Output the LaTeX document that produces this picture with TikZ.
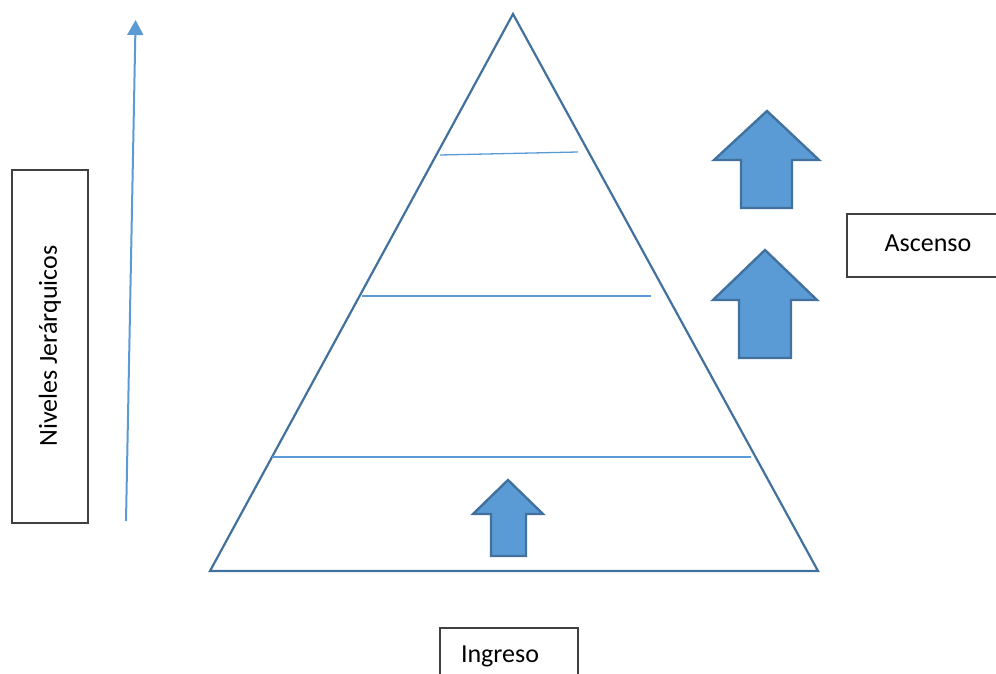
\documentclass[tikz,border=0pt]{standalone}
\usepackage{fontspec}
\setmainfont{Carlito}
\usetikzlibrary{arrows.meta}
\definecolor{pyr}{HTML}{41719C}
\definecolor{fillb}{HTML}{5B9BD5}
\definecolor{boxc}{HTML}{404040}
\tikzset{
  pyrline/.style={draw=pyr, line width=2.2pt, line join=miter},
  level/.style={draw=fillb, line width=1.3pt},
  blockarrow/.style={draw=pyr, fill=fillb, line width=2.4pt, line join=miter},
  lbl/.style={font=\fontsize{26}{30}\selectfont, inner sep=0pt},
  boxline/.style={draw=boxc, line width=1.4pt}
}
\begin{document}
\begin{tikzpicture}[x=1pt,y=-1pt]
\useasboundingbox (0,0) rectangle (996,674);
% pyramid
\coordinate (apex) at (513,14);
\coordinate (bl) at (210,571);
\coordinate (br) at (818,571);
\draw[pyrline] (apex) -- (br) -- (bl) -- cycle;
% level lines
\coordinate (l1a) at (440,155); \coordinate (l1b) at (578,152);
\coordinate (l2a) at (362,296); \coordinate (l2b) at (651,296);
\coordinate (l3a) at (272,457); \coordinate (l3b) at (751,457);
\draw[level] (l1a) -- (l1b);
\draw[level] (l2a) -- (l2b);
\draw[level] (l3a) -- (l3b);
% block arrows
\draw[blockarrow] (767,111) -- (819,160) -- (792,160) -- (792,208) -- (741,208) -- (741,160) -- (714,160) -- cycle;
\draw[blockarrow] (765,250) -- (817,300) -- (791,300) -- (791,358) -- (739,358) -- (739,300) -- (713,300) -- cycle;
\draw[blockarrow] (508,480) -- (543,514) -- (526,514) -- (526,556) -- (491,556) -- (491,514) -- (473,514) -- cycle;
% left arrow
\coordinate (va) at (126,521);
\coordinate (vb) at (135.6,20);
\draw[draw=fillb, line width=2pt, -{Triangle[width=16pt,length=15pt]}] (va) -- (vb);
% left box
\draw[boxline] (12,170) rectangle (88,523);
\node[lbl, rotate=90] (niv) at (50,346) {Niveles Jerárquicos};
% Ascenso box
\draw[boxline] (996,214) -- (847,214) -- (847,277) -- (996,277);
\node[lbl] (asc) at (928,243) {Ascenso};
% Ingreso box
\draw[boxline] (440,674) -- (440,628) -- (578,628) -- (578,674);
\node[lbl] (ing) at (500,656) {Ingreso};
\end{tikzpicture}
\end{document}
